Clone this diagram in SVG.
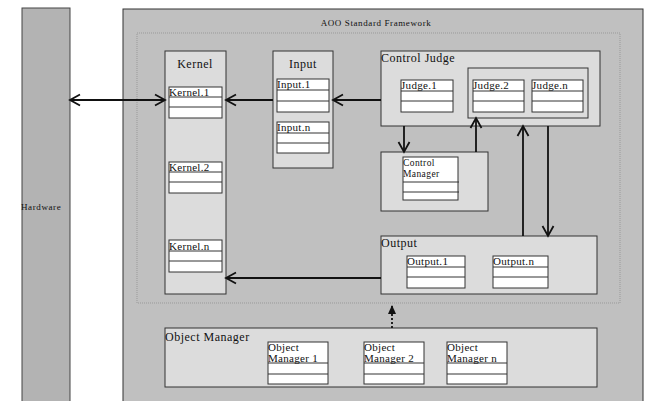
<svg xmlns="http://www.w3.org/2000/svg" width="648" height="401" viewBox="0 0 648 401">
<defs>
<style>
text{font-family:"Liberation Serif","DejaVu Serif",serif;fill:#111}
.t{font-size:12px;letter-spacing:0.5px}
.s{font-size:11px;letter-spacing:0.3px}
.xs{font-size:9px;letter-spacing:0.6px}
.cm{font-size:9.5px;letter-spacing:0.4px}
.frame{fill:#c0c0c0;stroke:#333;stroke-width:1}
.hw{fill:#b3b3b3;stroke:#444;stroke-width:1}
.pkg{fill:#dcdcdc;stroke:#333;stroke-width:1}
.cls{fill:#fff;stroke:#333;stroke-width:1}
.ln{stroke:#333;stroke-width:1}
.dot{fill:none;stroke:#999;stroke-width:1;stroke-dasharray:1,1}
.c{fill:none;stroke:#111;stroke-width:1.8}
.cd{fill:none;stroke:#111;stroke-width:1.8;stroke-dasharray:2,2}
</style>
<marker id="a" markerUnits="userSpaceOnUse" markerWidth="14" markerHeight="14" refX="11" refY="7" orient="auto-start-reverse"><path d="M1,1.5 L11,7 L1,12.5" fill="none" stroke="#111" stroke-width="1.8"/></marker>
<marker id="f" markerUnits="userSpaceOnUse" markerWidth="10" markerHeight="10" refX="9" refY="5" orient="auto"><path d="M0,1 L9,5 L0,9 Z" fill="#111"/></marker>
</defs>

<g id="hardware">
<rect class="hw" x="22" y="8" width="48" height="400"/>
<text class="xs" x="21" y="210">Hardware</text>
</g>

<g id="framework">
<rect class="frame" x="123" y="9" width="520" height="400"/>
<text class="xs" x="376" y="26" text-anchor="middle">AOO Standard Framework</text>
<rect class="dot" x="137" y="33" width="483" height="270"/>
</g>

<g id="kernel">
<rect class="pkg" x="165" y="51" width="61" height="243"/>
<text class="t" x="195" y="68" text-anchor="middle">Kernel</text>
<rect class="cls" x="169" y="87" width="53" height="31"/><line class="ln" x1="169" y1="97" x2="222" y2="97"/><line class="ln" x1="169" y1="107" x2="222" y2="107"/>
<text class="s" x="169" y="96">Kernel.1</text>
<rect class="cls" x="169" y="162" width="53" height="31"/><line class="ln" x1="169" y1="172" x2="222" y2="172"/><line class="ln" x1="169" y1="182" x2="222" y2="182"/>
<text class="s" x="169" y="171">Kernel.2</text>
<rect class="cls" x="169" y="240" width="53" height="32"/><line class="ln" x1="169" y1="251" x2="222" y2="251"/><line class="ln" x1="169" y1="261" x2="222" y2="261"/>
<text class="s" x="169" y="250">Kernel.n</text>
</g>

<g id="input">
<rect class="pkg" x="273" y="51" width="60" height="117"/>
<text class="t" x="303" y="68" text-anchor="middle">Input</text>
<rect class="cls" x="277" y="79" width="52" height="33"/><line class="ln" x1="277" y1="90" x2="329" y2="90"/><line class="ln" x1="277" y1="101" x2="329" y2="101"/>
<text class="s" x="277" y="88">Input.1</text>
<rect class="cls" x="277" y="122" width="52" height="31"/><line class="ln" x1="277" y1="133" x2="329" y2="133"/><line class="ln" x1="277" y1="143" x2="329" y2="143"/>
<text class="s" x="277" y="131">Input.n</text>
</g>

<g id="control-judge">
<rect class="pkg" x="381" y="51" width="219" height="75"/>
<text class="t" x="381" y="62">Control Judge</text>
<rect class="cls" x="401" y="80" width="52" height="32"/><line class="ln" x1="401" y1="91" x2="453" y2="91"/><line class="ln" x1="401" y1="101" x2="453" y2="101"/>
<text class="s" x="401" y="89">Judge.1</text>
<rect class="pkg" x="468" y="68" width="120" height="50"/>
<rect class="cls" x="473" y="80" width="51" height="32"/><line class="ln" x1="473" y1="91" x2="524" y2="91"/><line class="ln" x1="473" y1="101" x2="524" y2="101"/>
<text class="s" x="473" y="89">Judge.2</text>
<rect class="cls" x="532" y="80" width="51" height="32"/><line class="ln" x1="532" y1="91" x2="583" y2="91"/><line class="ln" x1="532" y1="101" x2="583" y2="101"/>
<text class="s" x="532" y="89">Judge.n</text>
</g>

<g id="control-manager">
<rect class="pkg" x="381" y="152" width="107" height="59"/>
<rect class="cls" x="403" y="157" width="55" height="43"/><line class="ln" x1="403" y1="182" x2="459" y2="182"/><line class="ln" x1="403" y1="192" x2="459" y2="192"/>
<text class="cm" x="403" y="166">Control</text>
<text class="cm" x="403" y="177">Manager</text>
</g>

<g id="output">
<rect class="pkg" x="381" y="236" width="216" height="58"/>
<text class="t" x="381" y="247">Output</text>
<rect class="cls" x="407" y="256" width="58" height="32"/><line class="ln" x1="407" y1="267" x2="465" y2="267"/><line class="ln" x1="407" y1="277" x2="465" y2="277"/>
<text class="s" x="407" y="265">Output.1</text>
<rect class="cls" x="493" y="256" width="55" height="32"/><line class="ln" x1="493" y1="267" x2="548" y2="267"/><line class="ln" x1="493" y1="277" x2="548" y2="277"/>
<text class="s" x="493" y="265">Output.n</text>
</g>

<g id="object-manager">
<rect class="pkg" x="165" y="328" width="432" height="59"/>
<text class="t" x="165" y="341">Object Manager</text>
<rect class="cls" x="268" y="342" width="60" height="42"/><line class="ln" x1="268" y1="363" x2="328" y2="363"/><line class="ln" x1="268" y1="374" x2="328" y2="374"/>
<text class="s" x="268" y="351">Object</text><text class="s" x="268" y="362">Manager 1</text>
<rect class="cls" x="364" y="342" width="60" height="42"/><line class="ln" x1="364" y1="363" x2="424" y2="363"/><line class="ln" x1="364" y1="374" x2="424" y2="374"/>
<text class="s" x="364" y="351">Object</text><text class="s" x="364" y="362">Manager 2</text>
<rect class="cls" x="447" y="342" width="60" height="42"/><line class="ln" x1="447" y1="363" x2="507" y2="363"/><line class="ln" x1="447" y1="374" x2="507" y2="374"/>
<text class="s" x="447" y="351">Object</text><text class="s" x="447" y="362">Manager n</text>
</g>

<g id="connectors">
<line class="c" x1="70" y1="100" x2="165" y2="100" marker-start="url(#a)" marker-end="url(#a)"/>
<line class="c" x1="273" y1="100" x2="226" y2="100" marker-end="url(#a)"/>
<line class="c" x1="381" y1="100" x2="333" y2="100" marker-end="url(#a)"/>
<line class="c" x1="404" y1="126" x2="404" y2="152" marker-end="url(#a)"/>
<line class="c" x1="476" y1="152" x2="476" y2="118" marker-end="url(#a)"/>
<line class="c" x1="523" y1="236" x2="523" y2="126" marker-end="url(#a)"/>
<line class="c" x1="548" y1="126" x2="548" y2="236" marker-end="url(#a)"/>
<line class="c" x1="381" y1="278" x2="226" y2="278" marker-end="url(#a)"/>
<line class="cd" x1="392" y1="328" x2="392" y2="305" marker-end="url(#f)"/>
</g>
</svg>
